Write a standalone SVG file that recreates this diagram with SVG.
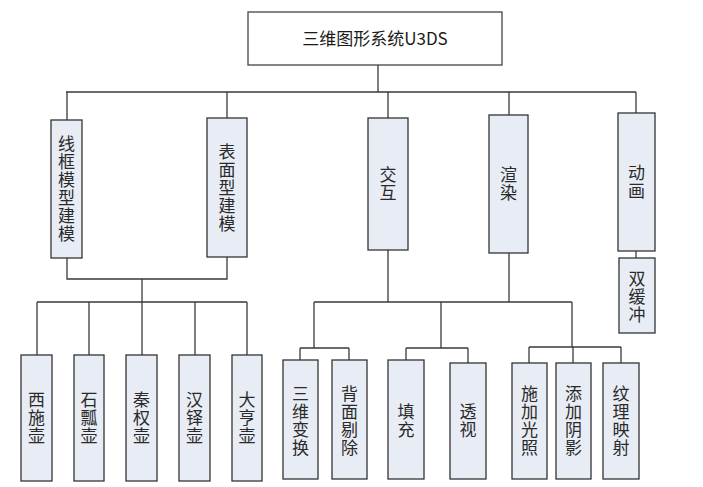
<svg xmlns="http://www.w3.org/2000/svg" width="703" height="487" viewBox="0 0 703 487">
<style>
.bg{fill:#ffffff}
.box{fill:#e8edf5;stroke:#333333;stroke-width:1.3}
.top{fill:#ffffff;stroke:#444444;stroke-width:1.3}
.lbl{font-family:"Noto Sans CJK SC","Noto Sans",sans-serif;font-size:17px;fill:#2a2a2a;text-anchor:middle;writing-mode:vertical-rl;letter-spacing:1px}
.ttl{font-family:"Noto Sans CJK SC","Noto Sans",sans-serif;font-size:17px;fill:#1a1a1a;text-anchor:middle}
.con{fill:none;stroke:#3a3a3a;stroke-width:1.3}
</style>
<rect class="bg" x="0" y="0" width="703" height="487"/>
<g id="connectors">
<path class="con" d="M378,65 V92 M66,92 H636 M67,92 V120 M227,92 V118 M388,92 V118 M509,92 V115 M636,92 V113"/>
<path class="con" d="M636,251 V258"/>
<path class="con" d="M67,258 V279 H227 V257 M142,279 V302 M37,302 H247 M37,302 V355 M89,302 V355 M142,302 V355 M195,302 V355 M247,302 V355"/>
<path class="con" d="M388,250 V302 M509,253 V302 M314,302 H572 M314,302 V348 M300,348 H349 M300,348 V360 M349,348 V360 M441,302 V348 M406,348 H468 M406,348 V360 M468,348 V363 M572,302 V347 M529,347 H621 M529,347 V363 M573,347 V363 M621,347 V363"/>
</g>
<g id="root">
<rect class="top" x="248" y="12" width="254" height="53"/>
<text class="ttl" x="375" y="45">三维图形系统U3DS</text>
</g>
<g id="n-wireframe">
<rect class="box" x="51" y="120" width="31" height="138"/>
<text class="lbl" x="66.5" y="189">线框模型建模</text>
</g>
<g id="n-surface">
<rect class="box" x="207" y="118" width="40" height="139"/>
<text class="lbl" x="227" y="188">表面型建模</text>
</g>
<g id="n-interact">
<rect class="box" x="368" y="118" width="40" height="132"/>
<text class="lbl" x="388" y="184">交互</text>
</g>
<g id="n-render">
<rect class="box" x="489" y="115" width="39" height="138"/>
<text class="lbl" x="508.5" y="184">渲染</text>
</g>
<g id="n-anim">
<rect class="box" x="618" y="113" width="37" height="138"/>
<text class="lbl" x="636.5" y="182">动画</text>
</g>
<g id="n-dbuf">
<rect class="box" x="619" y="258" width="36" height="75"/>
<text class="lbl" x="637" y="297">双缓冲</text>
</g>
<g id="n-xishi">
<rect class="box" x="21" y="355" width="31" height="126"/>
<text class="lbl" x="36.5" y="418">西施壶</text>
</g>
<g id="n-shipiao">
<rect class="box" x="74" y="355" width="30" height="126"/>
<text class="lbl" x="89" y="418">石瓢壶</text>
</g>
<g id="n-qinquan">
<rect class="box" x="126" y="355" width="31" height="126"/>
<text class="lbl" x="141.5" y="418">秦权壶</text>
</g>
<g id="n-handuo">
<rect class="box" x="179" y="355" width="31" height="126"/>
<text class="lbl" x="194.5" y="418">汉铎壶</text>
</g>
<g id="n-daheng">
<rect class="box" x="232" y="355" width="30" height="126"/>
<text class="lbl" x="247" y="418">大亨壶</text>
</g>
<g id="n-transform">
<rect class="box" x="283" y="360" width="35" height="119"/>
<text class="lbl" x="300.5" y="421">三维变换</text>
</g>
<g id="n-cull">
<rect class="box" x="332" y="360" width="35" height="119"/>
<text class="lbl" x="349.5" y="421">背面剔除</text>
</g>
<g id="n-fill">
<rect class="box" x="388" y="360" width="36" height="119"/>
<text class="lbl" x="406" y="421">填充</text>
</g>
<g id="n-persp">
<rect class="box" x="450" y="363" width="36" height="116"/>
<text class="lbl" x="468" y="421">透视</text>
</g>
<g id="n-light">
<rect class="box" x="512" y="363" width="35" height="116"/>
<text class="lbl" x="529.5" y="421">施加光照</text>
</g>
<g id="n-shadow">
<rect class="box" x="556" y="363" width="35" height="116"/>
<text class="lbl" x="573.5" y="421">添加阴影</text>
</g>
<g id="n-texture">
<rect class="box" x="603" y="363" width="36" height="116"/>
<text class="lbl" x="621" y="421">纹理映射</text>
</g>
</svg>
